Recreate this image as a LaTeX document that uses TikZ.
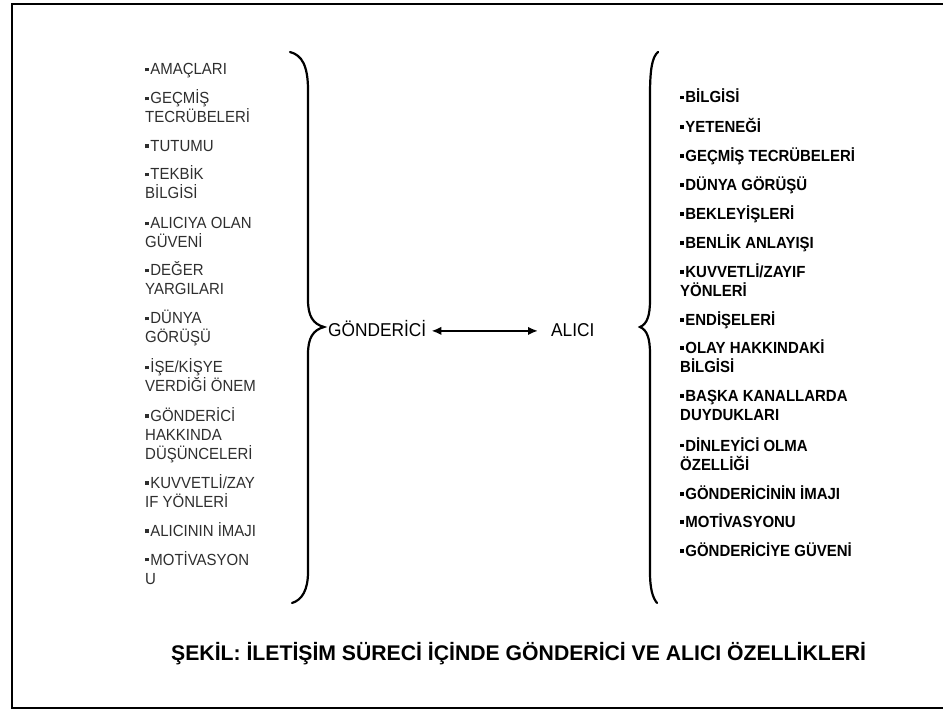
\documentclass[tikz,border=0pt]{standalone}
\usepackage{fontspec}
\setmainfont{Liberation Sans}
% slightly condensed face, set a little taller than its width suggests
\newfontfamily\listfont[FakeStretch=0.93]{Liberation Sans}
\usetikzlibrary{arrows.meta}

% small square bullet in front of each list entry
\newcommand{\bsq}{\rule[3.6pt]{3.8pt}{3.8pt}\hspace{1.4pt}}

\tikzset{
  frameline/.style={line width=2.6pt, line cap=rect},
  bracepath/.style={line width=2.2pt, line cap=round},
  leftitem/.style={anchor=base west, inner sep=0pt, text=black!82,
    font=\listfont\fontsize{16.1}{19}\selectfont},
  rightitem/.style={anchor=base west, inner sep=0pt, text=black,
    font=\listfont\fontsize{16.1}{19}\selectfont\bfseries},
  party/.style={anchor=base west, inner sep=0pt, text height=12.2pt, text depth=0pt,
    font=\listfont\fontsize{18.6}{20}\selectfont},
  caption/.style={anchor=base west, inner sep=0pt,
    font=\fontsize{21.2}{24}\selectfont\bfseries},
  link/.style={line width=2pt, {Latex[length=10pt,width=8.5pt]}-{Latex[length=10pt,width=8.5pt]}}
}

\begin{document}
\begin{tikzpicture}[x=1pt, y=-1pt]
\useasboundingbox (0,0) rectangle (943,711);
\fill[white] (0,0) rectangle (943,711);

% outer frame (open on the right)
\draw[frameline] (945,4) -- (12,4) -- (12,708) -- (945,708);

% sender attributes
\node[leftitem] (l1)  at (145,75)    {\parbox[t]{200pt}{\bsq AMAÇLARI}};
\node[leftitem] (l2)  at (145,104)   {\parbox[t]{200pt}{\bsq GEÇMİŞ\\TECRÜBELERİ}};
\node[leftitem] (l3)  at (145,151.7) {\parbox[t]{200pt}{\bsq TUTUMU}};
\node[leftitem] (l4)  at (145,180)   {\parbox[t]{200pt}{\bsq TEKBİK\\BİLGİSİ}};
\node[leftitem] (l5)  at (145,229)   {\parbox[t]{200pt}{\bsq ALICIYA OLAN\\GÜVENİ}};
\node[leftitem] (l6)  at (145,276)   {\parbox[t]{200pt}{\bsq DEĞER\\YARGILARI}};
\node[leftitem] (l7)  at (145,324)   {\parbox[t]{200pt}{\bsq DÜNYA\\GÖRÜŞÜ}};
\node[leftitem] (l8)  at (145,373)   {\parbox[t]{200pt}{\bsq İŞE/KİŞYE\\VERDİĞİ ÖNEM}};
\node[leftitem] (l9)  at (145,421.7) {\parbox[t]{200pt}{\bsq GÖNDERİCİ\\HAKKINDA\\DÜŞÜNCELERİ}};
\node[leftitem] (l10) at (145,488.3) {\parbox[t]{200pt}{\bsq KUVVETLİ/ZAY\\IF YÖNLERİ}};
\node[leftitem] (l11) at (145,536.7) {\parbox[t]{200pt}{\bsq ALICININ İMAJI}};
\node[leftitem] (l12) at (145,565)   {\parbox[t]{200pt}{\bsq MOTİVASYON\\U}};

% receiver attributes
\node[rightitem] (r1)  at (680,103)   {\parbox[t]{220pt}{\bsq BİLGİSİ}};
\node[rightitem] (r2)  at (680,132.5) {\parbox[t]{220pt}{\bsq YETENEĞİ}};
\node[rightitem] (r3)  at (680,161.5) {\parbox[t]{220pt}{\bsq GEÇMİŞ TECRÜBELERİ}};
\node[rightitem] (r4)  at (680,190.5) {\parbox[t]{220pt}{\bsq DÜNYA GÖRÜŞÜ}};
\node[rightitem] (r5)  at (680,219.5) {\parbox[t]{220pt}{\bsq BEKLEYİŞLERİ}};
\node[rightitem] (r6)  at (680,248.5) {\parbox[t]{220pt}{\bsq BENLİK ANLAYIŞI}};
\node[rightitem] (r7)  at (680,277.5) {\parbox[t]{220pt}{\bsq KUVVETLİ/ZAYIF\\YÖNLERİ}};
\node[rightitem] (r8)  at (680,325.5) {\parbox[t]{220pt}{\bsq ENDİŞELERİ}};
\node[rightitem] (r9)  at (680,353.5) {\parbox[t]{220pt}{\bsq OLAY HAKKINDAKİ\\BİLGİSİ}};
\node[rightitem] (r10) at (680,401.5) {\parbox[t]{220pt}{\bsq BAŞKA KANALLARDA\\DUYDUKLARI}};
\node[rightitem] (r11) at (680,451)   {\parbox[t]{220pt}{\bsq DİNLEYİCİ OLMA\\ÖZELLİĞİ}};
\node[rightitem] (r12) at (680,499.5) {\parbox[t]{220pt}{\bsq GÖNDERİCİNİN İMAJI}};
\node[rightitem] (r13) at (680,527.5) {\parbox[t]{220pt}{\bsq MOTİVASYONU}};
\node[rightitem] (r14) at (680,556.5) {\parbox[t]{220pt}{\bsq GÖNDERİCİYE GÜVENİ}};

% curly braces grouping each list
\draw[bracepath] (290,52) .. controls (302,55) and (308,66) .. (308,90)
  -- (308,300) .. controls (308,316) and (313,324) .. (324,327)
  .. controls (313,330) and (308,338) .. (308,354)
  -- (308,572) .. controls (308,590) and (302,600) .. (292,603);
\draw[bracepath] (658,52) .. controls (652,57) and (650,70) .. (650,95)
  -- (650,300) .. controls (650,316) and (647,324) .. (640,327)
  .. controls (647,330) and (650,338) .. (650,354)
  -- (650,572) .. controls (650,590) and (653,598) .. (657,603);

% the two parties and the two-way link between them
\node[party] (snd) at (328,337) {GÖNDERİCİ};
\node[party] (rcv) at (551,337) {ALICI};
\draw[link] ([xshift=5pt]snd.east) -- ([xshift=-13pt]rcv.west);

% figure caption
\node[caption] (cap) at (171,660) {ŞEKİL: İLETİŞİM SÜRECİ İÇİNDE GÖNDERİCİ VE ALICI ÖZELLİKLERİ};
\end{tikzpicture}
\end{document}
